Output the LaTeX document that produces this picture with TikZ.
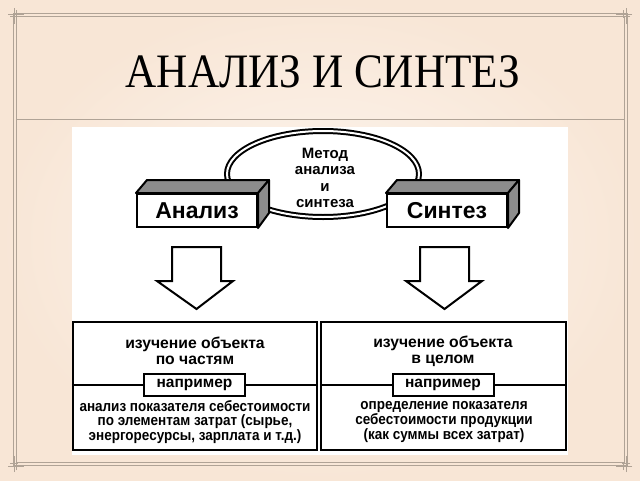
\documentclass[tikz,border=0pt]{standalone}
\usepackage{fontspec}
\setsansfont{Liberation Sans}
\newfontfamily\titlefont{Liberation Serif}
\newfontfamily\narrowf[FakeStretch=0.9]{Liberation Sans}
\usetikzlibrary{shapes.geometric,calc}
\definecolor{bgin}{HTML}{FDF6F0}
\definecolor{bgout}{HTML}{F8E6D6}
\definecolor{framec}{HTML}{B0A396}
\definecolor{facegray}{HTML}{8C8C8C}
\tikzset{
  frameline/.style={draw=framec, line width=0.9pt},
  frontbox/.style={draw=black, fill=white, line width=2pt, minimum width=120pt, minimum height=33pt, inner sep=0pt,
    font=\sffamily\bfseries\fontsize{23}{25}\selectfont},
  face/.style={draw=black, fill=facegray, line width=2pt, line join=round},
  blockarrow/.style={draw=black, fill=white, line width=2pt, line join=miter},
  panel/.style={draw=black, fill=white, line width=2.2pt, inner sep=0pt},
  toptext/.style={align=center, inner sep=0pt, font=\sffamily\bfseries\fontsize{15.7}{16}\selectfont},
  bottext/.style={align=center, inner sep=0pt, font=\narrowf\bfseries\fontsize{15}{14.6}\selectfont},
  tagbox/.style={draw=black, fill=white, line width=2pt, minimum width=101pt, minimum height=22pt, inner sep=0pt,
    font=\sffamily\bfseries\fontsize{15.5}{16}\selectfont},
  ornament/.style={framec, line width=0.4pt},
}
\begin{document}
\begin{tikzpicture}[x=1pt,y=-1pt]
\useasboundingbox (0,0) rectangle (640,480);
% background
\shade[inner color=bgin, outer color=bgout] (0,0) rectangle (640,480);
% frame
\draw[frameline] (13,13) rectangle (627,465);
\draw[frameline] (16,16) rectangle (624,462);
\draw[frameline] (16,119) -- (624,119);
% corner ornaments
\foreach \cx/\cy/\sx/\sy in {6/6/1/1, 634/6/-1/1, 6/474/1/-1, 634/474/-1/-1}{
  \draw[ornament] (\cx+\sx*2,\cy+\sy*8) -- (\cx+\sx*18,\cy+\sy*8);
  \draw[ornament] (\cx+\sx*8,\cy+\sy*2) -- (\cx+\sx*8,\cy+\sy*18);
  \draw[ornament] (\cx+\sx*4,\cy+\sy*10.5) -- (\cx+\sx*12,\cy+\sy*10.5);
  \draw[ornament] (\cx+\sx*10.5,\cy+\sy*4) -- (\cx+\sx*10.5,\cy+\sy*12);
}
% title
\node[inner sep=0pt, anchor=base] (title) at (323,87)
  {\titlefont\fontsize{48}{50}\selectfont\scalebox{0.9}[1]{АНАЛИЗ И СИНТЕЗ}};
% white panel
\fill[white] (72,127) rectangle (568,455);
% ellipse
\node[ellipse, draw=black, line width=2pt, double=white, double distance=2pt, fill=white,
  minimum width=192pt, minimum height=86pt, inner sep=0pt] (method) at (323,174) {};
\node[align=center, inner sep=0pt, font=\sffamily\bfseries\fontsize{15}{16.6}\selectfont] (methodtext) at (325,178)
  {Метод\\анализа\\и\\синтеза};
% 3D boxes
\node[frontbox] (anal) at (197,210.5) {Анализ};
\filldraw[face] (anal.north west) -- ++(11,-13) -- ($(anal.north east)+(11,-13)$) -- (anal.north east) -- cycle;
\filldraw[face] (anal.north east) -- ++(11,-13) -- ++(0,33) -- (anal.south east) -- cycle;
\node[frontbox] (synt) at (447,210.5) {Синтез};
\filldraw[face] (synt.north west) -- ++(11,-13) -- ($(synt.north east)+(11,-13)$) -- (synt.north east) -- cycle;
\filldraw[face] (synt.north east) -- ++(11,-13) -- ++(0,33) -- (synt.south east) -- cycle;
% block arrows
\filldraw[blockarrow] (172,247) -- (221,247) -- (221,281) -- (233,281) -- (196.5,309) -- (157,281) -- (172,281) -- cycle;
\filldraw[blockarrow] (420,247) -- (469,247) -- (469,281) -- (482,281) -- (444.5,309) -- (406,281) -- (420,281) -- cycle;
% panels
\node[panel, minimum width=244pt, minimum height=128pt] (lpanel) at (195,386) {};
\node[panel, minimum width=245pt, minimum height=128pt] (rpanel) at (443.5,386) {};
\draw[line width=2pt] (lpanel.west |- 0,385) -- (lpanel.east |- 0,385);
\draw[line width=2pt] (rpanel.west |- 0,385) -- (rpanel.east |- 0,385);
% texts
\node[toptext] (lt) at (195,351) {изучение объекта\\по частям};
\node[toptext] (rt) at (443,351) {изучение объекта\\в целом};
\node[tagbox] (ltag) at (194.5,384.5) {например};
\node[tagbox] (rtag) at (443,384.5) {например};
\node[bottext] (lb) at (195,422) {анализ показателя себестоимости\\по элементам затрат (сырье,\\энергоресурсы, зарплата и т.д.)};
\node[bottext] (rb) at (444,422) {определение показателя\\себестоимости продукции\\(как суммы всех затрат)};
\end{tikzpicture}
\end{document}
